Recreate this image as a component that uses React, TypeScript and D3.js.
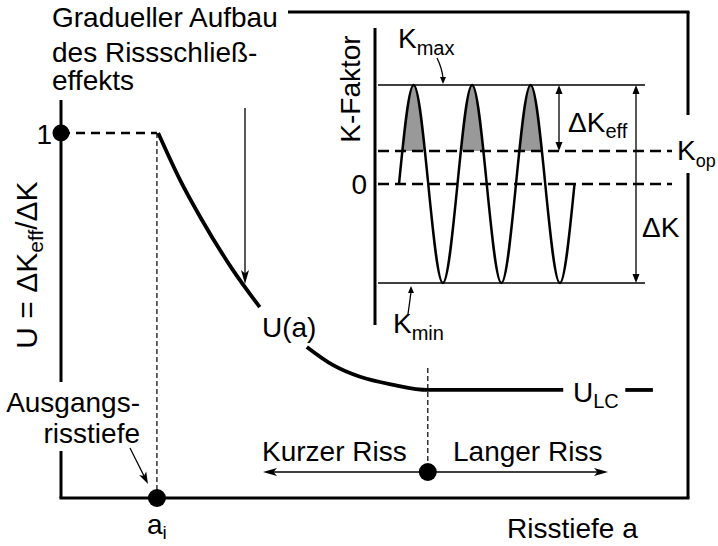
import React from 'react';
import * as d3 from 'd3';

const W = 718;
const H = 546;
const FONT = "'Liberation Sans', Arial, Helvetica, sans-serif";

// Main diagram: crack depth a (in % of axis length) and U = dKeff/dK
const crackDepth = [15.5, 19.0, 22.2, 27.4, 31.7, 35.5, 39.2, 43.4, 47.7, 53.0, 58.5, 80.1];
const uRatio = [1.0, 0.871, 0.77, 0.625, 0.523, 0.46, 0.414, 0.364, 0.332, 0.31, 0.296, 0.296];
const labelGap = [32, 39]; // U(a) label interrupts the curve here
const ulcTail = [90.0, 94.4];
const U_LC = 0.296;
const initialDepth = 15.3; // a_i
const transitionDepth = 58.5; // short / long crack

// Inset: load cycles (time in cycles) and K factor (normalised)
const loadTime = [0, 0.25, 0.5, 0.75, 1, 1.25, 1.5, 1.75, 2, 2.25, 2.5, 2.75, 3];
const kFactor = [0, 1, 0, -1, 0, 1, 0, -1, 0, 1, 0, -1, 0];
const K_MAX = 1;
const K_MIN = -1;
const K_OP = 0.333;

type P = [number, number];

function Arrow({ x1, y1, x2, y2, len = 10, wid = 3.5, sw = 1.3 }: any) {
  const ang = Math.atan2(y2 - y1, x2 - x1);
  const c = Math.cos(ang), s = Math.sin(ang);
  const bx = x2 - len * c, by = y2 - len * s;
  const nx = -s, ny = c;
  const p = `M${x2},${y2} L${bx + nx * wid},${by + ny * wid} L${x2 - len * 0.75 * c},${y2 - len * 0.75 * s} L${bx - nx * wid},${by - ny * wid} Z`;
  return (
    <g>
      <line x1={x1} y1={y1} x2={x2 - len * 0.6 * c} y2={y2 - len * 0.6 * s} stroke="#000" strokeWidth={sw} />
      <path d={p} fill="#000" />
    </g>
  );
}

function Head({ x, y, dir, len = 9, wid = 3.5 }: any) {
  // simple filled triangle, dir: 1 = points down, -1 = points up
  const p = `M${x},${y} L${x - wid},${y - dir * len} L${x + wid},${y - dir * len} Z`;
  return <path d={p} fill="#000" />;
}

export default function App() {
  const x = d3.scaleLinear().domain([0, 100]).range([61, 688]);
  const y = d3.scaleLinear().domain([0, 1]).range([498, 133]);

  const curvePts: P[] = crackDepth.map((a, i) => [a, uRatio[i]]);
  const uLine = d3
    .line<P>()
    .x((d) => x(d[0]))
    .y((d) => y(d[1]))
    .defined((d) => d[0] <= labelGap[0] || d[0] >= labelGap[1])
    .curve(d3.curveMonotoneX);
  const tailLine = d3.line<number>().x((d) => x(d)).y(() => y(U_LC));

  // Inset scales
  const xi = d3.scaleLinear().domain([0, 3]).range([399, 574.5]);
  const yi = d3.scaleLinear().domain([K_MIN, K_MAX]).range([283, 85]);
  const wavePts: P[] = loadTime.map((t, i) => [t, kFactor[i]]);
  const waveLine = d3.line<P>().x((d) => xi(d[0])).y((d) => yi(d[1])).curve(d3.curveNatural);
  const waveArea = d3
    .area<P>()
    .x((d) => xi(d[0]))
    .y0(yi(K_OP))
    .y1((d) => yi(d[1]))
    .curve(d3.curveNatural);

  const refL = 378, refR = 645, dashR = 672;
  const txt = { fontFamily: FONT, fill: '#000' } as any;

  return (
    <svg width={W} height={H} style={{ position: 'absolute', left: 0, top: 0, background: '#fff' }} xmlns="http://www.w3.org/2000/svg">
      <defs>
        <clipPath id="aboveKop">
          <rect x={0} y={0} width={W} height={yi(K_OP)} />
        </clipPath>
      </defs>
      <rect x={0} y={0} width={W} height={H} fill="#fff" />

      {/* frame */}
      <g stroke="#000" strokeWidth={3} fill="none" strokeLinecap="butt">
        <line x1={x(0)} y1={100} x2={x(0)} y2={382} />
        <line x1={x(0)} y1={451} x2={x(0)} y2={y(0)} />
        <line x1={x(0) - 1.5} y1={y(0)} x2={x(100) + 1.5} y2={y(0)} />
        <line x1={x(100)} y1={12} x2={x(100)} y2={115} />
        <line x1={x(100)} y1={173} x2={x(100)} y2={y(0)} />
        <line x1={288} y1={12} x2={x(100) + 1.5} y2={12} />
      </g>

      {/* U = 1 dashed and a_i dashed */}
      <line x1={x(0)} y1={y(1)} x2={x(initialDepth)} y2={y(1)} stroke="#000" strokeWidth={2.5} strokeDasharray="9 6" />
      <line x1={x(initialDepth)} y1={y(1)} x2={x(initialDepth)} y2={y(0)} stroke="#000" strokeWidth={1.2} strokeDasharray="5 3" />
      <line x1={x(transitionDepth)} y1={368} x2={x(transitionDepth)} y2={472} stroke="#000" strokeWidth={1.2} strokeDasharray="5 3" />

      {/* U(a) curve */}
      <path d={uLine(curvePts) || ''} fill="none" stroke="#000" strokeWidth={3.8} />
      <path d={tailLine(ulcTail) || ''} fill="none" stroke="#000" strokeWidth={3.8} />

      {/* dots */}
      <circle cx={x(0)} cy={y(1)} r={8.5} fill="#000" />
      <circle cx={x(initialDepth)} cy={y(0)} r={9} fill="#000" />
      <circle cx={x(transitionDepth)} cy={472} r={9} fill="#000" />

      {/* arrows main */}
      <Arrow x1={x(transitionDepth)} y1={472} x2={263} y2={472} len={14} wid={4} />
      <Arrow x1={x(transitionDepth)} y1={472} x2={608} y2={472} len={14} wid={4} />
      <Arrow x1={245} y1={108} x2={245} y2={284} len={14} wid={4} />
      <Arrow x1={130} y1={448} x2={148} y2={484} len={12} wid={4} />

      {/* Inset */}
      <line x1={375} y1={28} x2={375} y2={325} stroke="#000" strokeWidth={3} />
      <line x1={refL} y1={yi(K_MAX)} x2={refR} y2={yi(K_MAX)} stroke="#000" strokeWidth={1.3} />
      <line x1={refL} y1={yi(K_MIN)} x2={refR} y2={yi(K_MIN)} stroke="#000" strokeWidth={1.3} />
      <path d={waveArea(wavePts) || ''} fill="#999" clipPath="url(#aboveKop)" />
      <line x1={refL} y1={yi(K_OP)} x2={dashR} y2={yi(K_OP)} stroke="#000" strokeWidth={2.5} strokeDasharray="11 6" />
      <line x1={refL} y1={yi(0)} x2={dashR} y2={yi(0)} stroke="#000" strokeWidth={2.5} strokeDasharray="11 6" />
      <path d={waveLine(wavePts) || ''} fill="none" stroke="#000" strokeWidth={2.5} />

      {/* dK_eff and dK arrows */}
      <line x1={559} y1={yi(K_MAX) + 6} x2={559} y2={yi(K_OP) - 6} stroke="#000" strokeWidth={1.3} />
      <Head x={559} y={yi(K_MAX)} dir={-1} />
      <Head x={559} y={yi(K_OP)} dir={1} />
      <line x1={636} y1={yi(K_MAX) + 6} x2={636} y2={yi(K_MIN) - 6} stroke="#000" strokeWidth={1.3} />
      <Head x={636} y={yi(K_MAX)} dir={-1} />
      <Head x={636} y={yi(K_MIN)} dir={1} />

      {/* Kmax / Kmin pointers */}
      <path d="M437,58 Q442,68 443,78" fill="none" stroke="#000" strokeWidth={1.3} />
      <Head x={443} y={84} dir={1} len={7} wid={3} />
      <path d="M408,314 Q410,300 411,292" fill="none" stroke="#000" strokeWidth={1.3} />
      <Head x={411} y={286} dir={-1} len={7} wid={3} />

      {/* Texts */}
      <g style={txt} fontSize={28}>
        <text x={52} y={27}>Gradueller Aufbau</text>
        <text x={52} y={62}>des Rissschließ-</text>
        <text x={52} y={90}>effekts</text>
        <text x={52} y={144} textAnchor="end">1</text>
        <text x={262} y={337}>U(a)</text>
        <text x={140} y={412} textAnchor="end">Ausgangs-</text>
        <text x={140} y={443} textAnchor="end">risstiefe</text>
        <text x={262} y={461}>Kurzer Riss</text>
        <text x={453} y={461}>Langer Riss</text>
        <text x={507} y={538}>Risstiefe a</text>
        <text x={147} y={534}>a<tspan fontSize={19} dy={5}>i</tspan></text>
        <text x={573} y={402}>U<tspan fontSize={20} dy={6}>LC</tspan></text>
        <text x={398} y={48}>K<tspan fontSize={20} dy={7}>max</tspan></text>
        <text x={393} y={333}>K<tspan fontSize={20} dy={7}>min</tspan></text>
        <text x={568} y={132}>ΔK<tspan fontSize={20} dy={6}>eff</tspan></text>
        <text x={642} y={237}>ΔK</text>
        <text x={677} y={160}>K<tspan fontSize={18} dy={7}>op</tspan></text>
        <text x={367} y={194} textAnchor="end">0</text>
        <text transform="translate(360,89) rotate(-90)" textAnchor="middle">K-Faktor</text>
        <text transform="translate(37,265) rotate(-90)" textAnchor="middle" fontSize={30}>
          U = ΔK<tspan fontSize={21} dy={6}>eff</tspan><tspan dy={-6}>/ΔK</tspan>
        </text>
      </g>
    </svg>
  );
}
